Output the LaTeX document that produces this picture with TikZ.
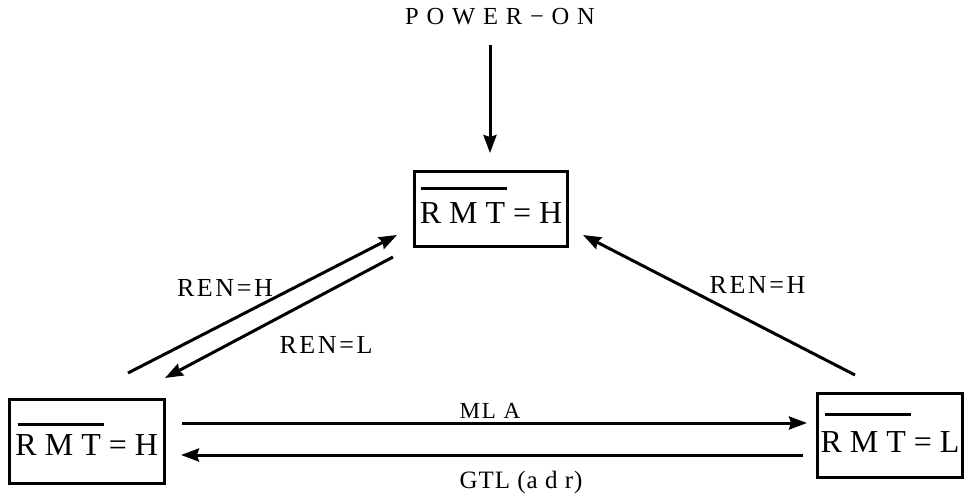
\documentclass[tikz,border=0pt]{standalone}
\usepackage{fontspec}
\setmainfont{Liberation Serif}
\usepackage{tikz}
\usetikzlibrary{calc,arrows.meta}

\begin{document}
\begin{tikzpicture}[x=1pt,y=-1pt,line width=3pt,
    state/.style={draw,inner sep=0pt,outer sep=0pt,text depth=0pt,
      font=\fontsize{32}{36}\selectfont},
    arr/.style={-{Stealth[length=18pt,width=13pt,inset=2pt]}},
    lbl/.style={inner sep=0pt,anchor=base,
      font=\fontsize{26}{30}\selectfont\addfontfeature{LetterSpace=10}}]
  \useasboundingbox (0,0) rectangle (964,495);
  % the three states
  \node[state,minimum width=153pt,minimum height=75pt,text height=29pt] (top) at (491,208.5) {R M T = H};
  \node[state,minimum width=154.5pt,minimum height=84pt,text height=28pt] (lbox) at (86.75,441) {R M T = H};
  \node[state,minimum width=145pt,minimum height=84pt,text height=34pt] (rbox) at (890,435) {R M T = L};
  \foreach \n/\dx/\dy in {top/6/17,lbox/8/25,rbox/7/21}
    \draw ($(\n.north west)+(\dx,\dy)$) -- ++(86,0);
  % power on
  \node[lbl,font=\fontsize{24.5}{28}\selectfont\addfontfeature{LetterSpace=32}] (pwr) at (500,25) {POWER−ON};
  \draw[arr] ($(pwr.south)+(-10,18)$) -- ($(top.north)+(-1,-18)$);
  % transitions
  \draw[arr] ($(lbox.north east)+(-36,-26)$) -- ($(top.south west)+(-17.5,-11)$);
  \draw[arr] ($(top.south west)+(-21.5,11)$) -- ($(lbox.north east)+(1,-21)$);
  \draw[arr] ($(rbox.north west)+(37.5,-18)$) -- ($(top.south east)+(15.5,-11)$);
  \draw[arr] ($(lbox.east)+(18,-18)$) -- ($(rbox.west)+(-10.5,-12)$);
  \draw[arr] ($(rbox.west)+(-14.5,20)$) -- ($(lbox.east)+(17,14)$);
  \node[lbl] (renhl) at (225,296) {REN=H};
  \node[lbl] (renl) at (326,353) {REN=L};
  \node[lbl] (renhr) at (757.5,293) {REN=H};
  \node[lbl,font=\fontsize{23}{26}\selectfont\addfontfeature{LetterSpace=8}] (mla) at (490,418) {ML A};
  \node[lbl,font=\fontsize{25}{28}\selectfont\addfontfeature{LetterSpace=4}] (gtl) at (521,488) {GTL (a d r)};
\end{tikzpicture}
\end{document}
